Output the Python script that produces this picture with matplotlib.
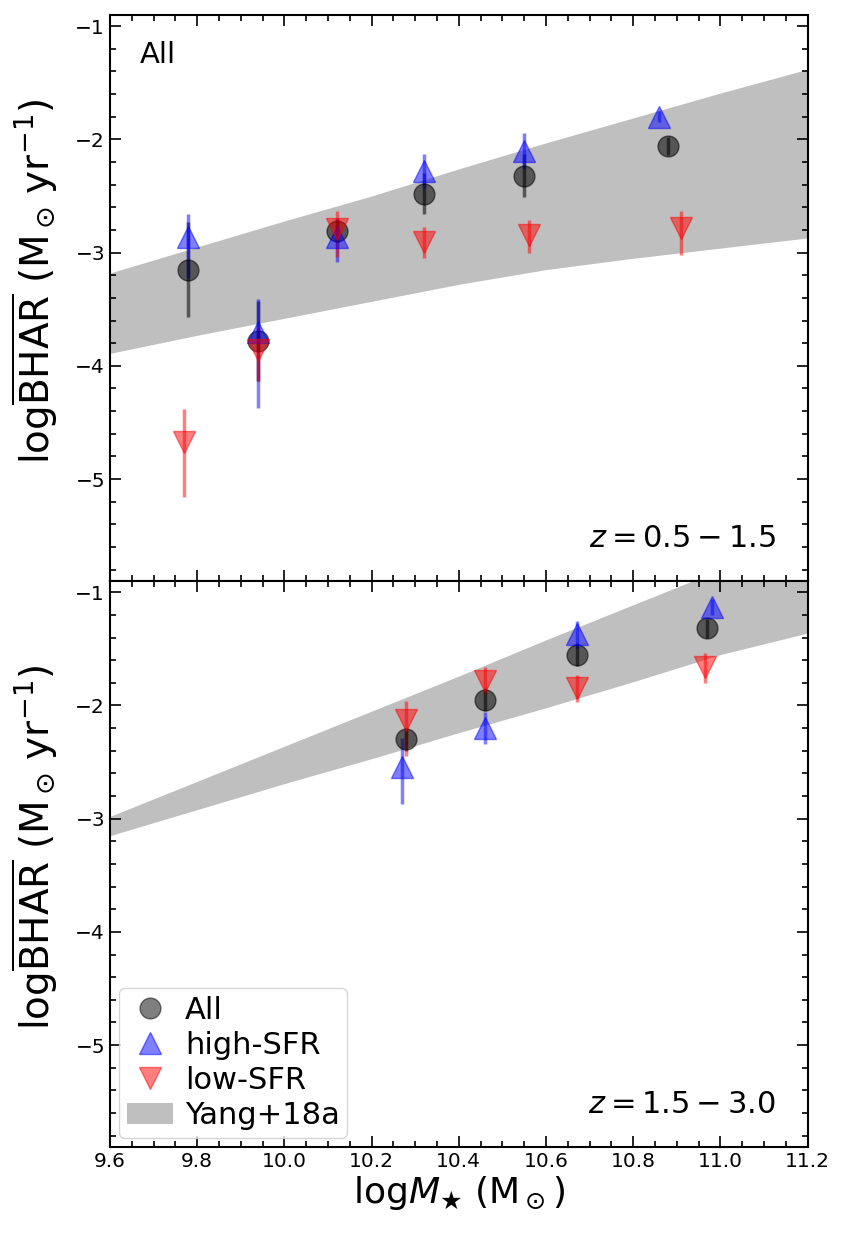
"""
恒星質量と平均BHARの関係を描くモジュール
"""

# 1. サードパーティライブラリ
import matplotlib
import matplotlib.pyplot as plt
from matplotlib.lines import Line2D
from matplotlib.patches import Patch
from matplotlib.ticker import MultipleLocator

matplotlib.use("Agg")  # GUIバックエンドを使用しない

# z = 0.5 - 1.5 のデータ
LOWZ_ALL_MASS = [9.78, 9.94, 10.12, 10.32, 10.55, 10.88]
LOWZ_ALL_BHAR = [-3.15, -3.78, -2.81, -2.48, -2.32, -2.06]
LOWZ_ALL_ERR = [0.42, 0.35, 0.10, 0.18, 0.19, 0.08]

LOWZ_HIGH_MASS = [9.78, 9.94, 10.12, 10.32, 10.55, 10.86]
LOWZ_HIGH_BHAR = [-2.86, -3.70, -2.86, -2.28, -2.10, -1.80]
LOWZ_HIGH_ERR_LO = [0.36, 0.67, 0.22, 0.15, 0.16, 0.05]
LOWZ_HIGH_ERR_HI = [0.20, 0.29, 0.17, 0.15, 0.16, 0.05]

LOWZ_LOW_MASS = [9.77, 9.94, 10.12, 10.32, 10.56, 10.91]
LOWZ_LOW_BHAR = [-4.67, -3.86, -2.79, -2.91, -2.84, -2.78]
LOWZ_LOW_ERR_LO = [0.49, 0.27, 0.25, 0.14, 0.16, 0.24]
LOWZ_LOW_ERR_HI = [0.29, 0.20, 0.16, 0.14, 0.13, 0.15]

# z = 1.5 - 3.0 のデータ
HIGHZ_ALL_MASS = [10.28, 10.46, 10.67, 10.97]
HIGHZ_ALL_BHAR = [-2.30, -1.95, -1.55, -1.32]
HIGHZ_ALL_ERR = [0.10, 0.10, 0.10, 0.08]

HIGHZ_HIGH_MASS = [10.27, 10.46, 10.67, 10.98]
HIGHZ_HIGH_BHAR = [-2.54, -2.20, -1.37, -1.13]
HIGHZ_HIGH_ERR_LO = [0.33, 0.14, 0.12, 0.07]
HIGHZ_HIGH_ERR_HI = [0.25, 0.14, 0.12, 0.07]

HIGHZ_LOW_MASS = [10.28, 10.46, 10.67, 10.965]
HIGHZ_LOW_BHAR = [-2.13, -1.78, -1.85, -1.66]
HIGHZ_LOW_ERR_LO = [0.32, 0.12, 0.12, 0.14]
HIGHZ_LOW_ERR_HI = [0.17, 0.12, 0.12, 0.12]

# Yang+18a の範囲
YANG_MASS = [9.6, 9.8, 10.0, 10.2, 10.4, 10.6, 10.8, 11.0, 11.2]
YANG_LOWZ_UPPER = [-3.18, -2.95, -2.72, -2.50, -2.26, -2.03, -1.81, -1.59, -1.38]
YANG_LOWZ_LOWER = [-3.89, -3.73, -3.58, -3.43, -3.28, -3.15, -3.05, -2.96, -2.87]
YANG_HIGHZ_UPPER = [-2.98, -2.67, -2.36, -2.05, -1.74, -1.42, -1.11, -0.80, -0.49]
YANG_HIGHZ_LOWER = [-3.15, -2.92, -2.69, -2.47, -2.24, -2.02, -1.79, -1.55, -1.36]

YLABEL = r"log$\overline{\rm BHAR}$ (M$_\odot\,$yr$^{-1}$)"
XLABEL = r"log$M_\bigstar$ (M$_\odot$)"


def draw_panel(ax, data, band_upper, band_lower, z_text):
    """1つのパネルを描画"""
    ax.fill_between(YANG_MASS, band_lower, band_upper, color="grey",
                    alpha=0.5, lw=0, zorder=1)

    all_m, all_b, all_e, hi_m, hi_b, hi_lo, hi_hi, lo_m, lo_b, lo_lo, lo_hi = data

    ax.errorbar(all_m, all_b, yerr=all_e, fmt="o", color="k", ms=15,
                elinewidth=2.5, capsize=0, alpha=0.55, zorder=3)
    ax.errorbar(hi_m, hi_b, yerr=[hi_lo, hi_hi], fmt="^", color="b", ms=16,
                elinewidth=2.5, capsize=0, alpha=0.5, zorder=3)
    ax.errorbar(lo_m, lo_b, yerr=[lo_lo, lo_hi], fmt="v", color="r", ms=16,
                elinewidth=2.5, capsize=0, alpha=0.5, zorder=3)

    # 軸の設定
    ax.set_xlim(9.6, 11.2)
    ax.set_ylim(-5.9, -0.9)
    ax.xaxis.set_major_locator(MultipleLocator(0.2))
    ax.xaxis.set_minor_locator(MultipleLocator(0.05))
    ax.yaxis.set_major_locator(MultipleLocator(1))
    ax.yaxis.set_minor_locator(MultipleLocator(0.2))
    ax.tick_params(which="both", direction="in", top=True, right=True,
                   labelsize=14.5, width=1.2)
    ax.tick_params(which="major", length=8)
    ax.tick_params(which="minor", length=4)
    for spine in ax.spines.values():
        spine.set_linewidth(1.5)
    ax.set_ylabel(YLABEL, fontsize=28)
    ax.yaxis.set_label_coords(-0.072, 0.53)

    ax.text(0.955, 0.075, z_text, transform=ax.transAxes, ha="right",
            va="center", fontsize=22)


def create_graph():
    """2段のグラフを作成"""
    fig, (ax1, ax2) = plt.subplots(2, 1, figsize=(8.52, 12.4), dpi=100,
                                   sharex=True)
    fig.subplots_adjust(left=0.129, right=0.948, top=0.988, bottom=0.075,
                        hspace=0)

    draw_panel(
        ax1,
        (LOWZ_ALL_MASS, LOWZ_ALL_BHAR, LOWZ_ALL_ERR,
         LOWZ_HIGH_MASS, LOWZ_HIGH_BHAR, LOWZ_HIGH_ERR_LO, LOWZ_HIGH_ERR_HI,
         LOWZ_LOW_MASS, LOWZ_LOW_BHAR, LOWZ_LOW_ERR_LO, LOWZ_LOW_ERR_HI),
        YANG_LOWZ_UPPER, YANG_LOWZ_LOWER, r"$z=0.5-1.5$",
    )
    draw_panel(
        ax2,
        (HIGHZ_ALL_MASS, HIGHZ_ALL_BHAR, HIGHZ_ALL_ERR,
         HIGHZ_HIGH_MASS, HIGHZ_HIGH_BHAR, HIGHZ_HIGH_ERR_LO, HIGHZ_HIGH_ERR_HI,
         HIGHZ_LOW_MASS, HIGHZ_LOW_BHAR, HIGHZ_LOW_ERR_LO, HIGHZ_LOW_ERR_HI),
        YANG_HIGHZ_UPPER, YANG_HIGHZ_LOWER, r"$z=1.5-3.0$",
    )

    ax1.text(0.043, 0.93, "All", transform=ax1.transAxes, ha="left",
             va="center", fontsize=21)
    ax2.set_xlabel(XLABEL, fontsize=26, labelpad=2)

    # 凡例
    handles = [
        Line2D([], [], marker="o", ls="none", color="k", alpha=0.5, ms=15),
        Line2D([], [], marker="^", ls="none", color="b", alpha=0.5, ms=16),
        Line2D([], [], marker="v", ls="none", color="r", alpha=0.5, ms=16),
        Patch(facecolor="grey", alpha=0.5, lw=0),
    ]
    labels = ["All", "high-SFR", "low-SFR", "Yang+18a"]
    ax2.legend(handles, labels, loc="lower left", fontsize=22,
               handlelength=1.5, handletextpad=0.4, labelspacing=0.2,
               borderpad=0.25, borderaxespad=0.3)

    fig.savefig("out.png", dpi=100)
    plt.close(fig)  # メモリリーク防止


if __name__ == "__main__":
    create_graph()
